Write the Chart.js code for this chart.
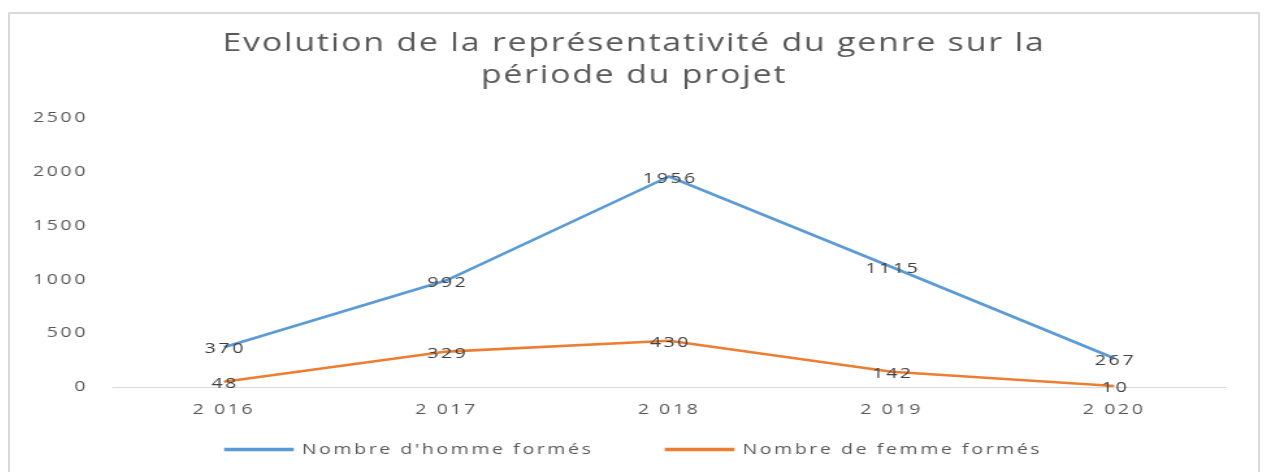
<!DOCTYPE html>
<html>
<head>
<meta charset="utf-8">
<script src="https://cdn.jsdelivr.net/npm/chart.js@4"></script>
<style>
    body { margin: 0; background: #fff; overflow: hidden; }
    .frame {
        position: absolute; left: 8px; top: 12px; width: 1248px; height: 480px;
        border: 2px solid #d9d9d9; border-bottom: none; background: #fff;
    }
    .stretch { transform: scaleX(1.3); transform-origin: 0 0; }
</style>
</head>
<body>
<div class="frame">
    <div class="stretch">
        <canvas id="genreChart" width="960" height="458" style="width:960px;height:458px"></canvas>
    </div>
</div>
<script>
const years = [2016, 2017, 2018, 2019, 2020];
const yearLabels = ['2 016', '2 017', '2 018', '2 019', '2 020'];
const hommes = [370, 992, 1956, 1115, 267];
const femmes = [48, 329, 430, 142, 10];
const yTicks = [0, 500, 1000, 1500, 2000, 2500];

const textGrey = '#595959';
const spacing = '2px';
const titleSpacing = '1.4px';
const boxShift = 12.5; // title + legend are centred on the whole frame, not the padded area

// Excel-like value labels sitting on the points
const valueLabels = {
    id: 'valueLabels',
    afterDatasetsDraw(chart) {
        const ctx = chart.ctx;
        ctx.save();
        ctx.font = '15px "Open Sans"';
        ctx.fillStyle = '#404040';
        ctx.textAlign = 'center';
        ctx.textBaseline = 'middle';
        chart.data.datasets.forEach((ds, i) => {
            chart.getDatasetMeta(i).data.forEach((pt, j) => {
                ctx.fillText(String(ds.data[j]), pt.x + 1, pt.y + 2);
            });
        });
        ctx.restore();
    }
};

function wrapDraw(chart, box, letters) {
    if (!box || box._wrapped) return;
    const orig = box.draw;
    box.draw = function() {
        const c = chart.ctx;
        c.save();
        c.translate(boxShift, 0);
        c.letterSpacing = letters;
        orig.apply(this, arguments);
        c.restore();
        c.letterSpacing = spacing;
    };
    box._wrapped = true;
}

// wide letter spacing for the small text, a bit less for the title
const letterSpacing = {
    id: 'letterSpacing',
    beforeLayout(chart) {
        chart.ctx.letterSpacing = spacing;
        wrapDraw(chart, chart.titleBlock, titleSpacing);
        wrapDraw(chart, chart.legend, spacing);
    },
    beforeDraw(chart) {
        chart.ctx.letterSpacing = spacing;
    }
};

const ctx = document.getElementById('genreChart');
new Chart(ctx, {
    type: 'line',
    data: {
        labels: years,
        datasets: [{
            label: "Nombre d'homme formés",
            data: hommes,
            borderColor: '#5B9BD5',
            backgroundColor: '#5B9BD5',
            borderWidth: 2.6,
            pointRadius: 0,
            tension: 0
        }, {
            label: 'Nombre de femme formés',
            data: femmes,
            borderColor: '#ED7D31',
            backgroundColor: '#ED7D31',
            borderWidth: 2.6,
            pointRadius: 0,
            tension: 0
        }]
    },
    options: {
        responsive: false,
        animation: false,
        layout: { padding: { left: 0, right: 25, top: 0, bottom: 5 } },
        scales: {
            x: {
                offset: true,
                grid: { display: false, drawTicks: false },
                border: { display: true, color: '#d9d9d9', width: 1 },
                ticks: {
                    color: textGrey,
                    font: { family: 'Open Sans', size: 15 },
                    padding: 14,
                    callback: (v, i) => yearLabels[i]
                }
            },
            y: {
                min: 0,
                max: 2500,
                grid: { display: false, drawTicks: false },
                border: { display: false },
                afterBuildTicks: axis => { axis.ticks = yTicks.map(v => ({ value: v })); },
                afterFit: axis => { axis.width = 79; },
                ticks: {
                    color: textGrey,
                    font: { family: 'Open Sans', size: 15 },
                    padding: 19,
                    callback: v => String(v)
                }
            }
        },
        plugins: {
            title: {
                display: true,
                text: ['Evolution de la représentativité du genre sur la', 'période du projet'],
                color: textGrey,
                font: { family: 'Open Sans', size: 26, weight: 'normal', lineHeight: 1.23 },
                padding: { top: 14, bottom: 26 }
            },
            legend: {
                position: 'bottom',
                labels: {
                    color: textGrey,
                    font: { family: 'Open Sans', size: 15 },
                    boxWidth: 51,
                    boxHeight: 1,
                    padding: 9,
                    generateLabels(chart) {
                        const items = Chart.defaults.plugins.legend.labels.generateLabels(chart);
                        // Excel leaves a wide gap between the two entries
                        items[0].text = items[0].text + '        ';
                        return items;
                    }
                }
            },
            tooltip: { enabled: false }
        }
    },
    plugins: [letterSpacing, valueLabels]
});
</script>
</body>
</html>
